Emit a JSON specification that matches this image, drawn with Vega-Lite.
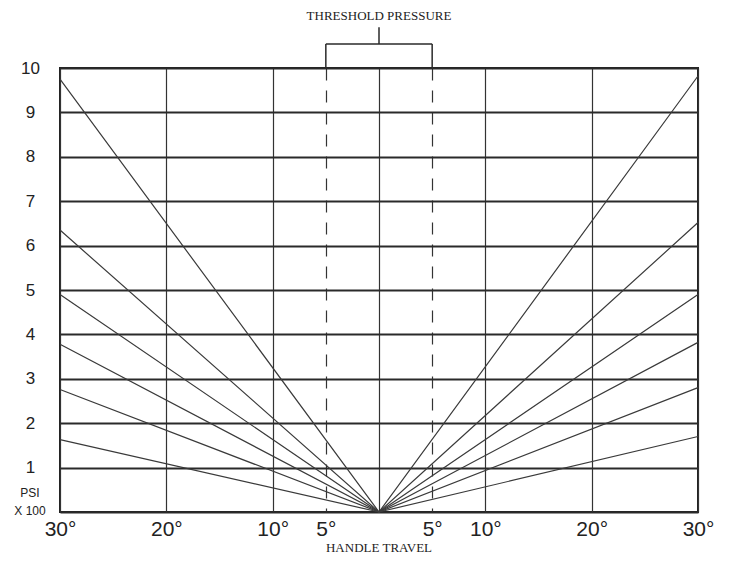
{
  "$schema": "https://vega.github.io/schema/vega-lite/v6.json",
  "width": 638,
  "height": 444,
  "autosize": {"type": "none"},
  "padding": {"left": 60, "top": 68, "right": 38, "bottom": 55},
  "background": "white",
  "config": {"view": {"stroke": "#222", "strokeWidth": 2}},
  "datasets": {
    "fan": [
      {"series": "a", "x": -30, "y": 9.75}, {"series": "a", "x": 0, "y": 0}, {"series": "a", "x": 30, "y": 9.82},
      {"series": "b", "x": -30, "y": 6.35}, {"series": "b", "x": 0, "y": 0}, {"series": "b", "x": 30, "y": 6.52},
      {"series": "c", "x": -30, "y": 4.9}, {"series": "c", "x": 0, "y": 0}, {"series": "c", "x": 30, "y": 4.9},
      {"series": "d", "x": -30, "y": 3.78}, {"series": "d", "x": 0, "y": 0}, {"series": "d", "x": 30, "y": 3.82},
      {"series": "e", "x": -30, "y": 2.76}, {"series": "e", "x": 0, "y": 0}, {"series": "e", "x": 30, "y": 2.8},
      {"series": "f", "x": -30, "y": 1.63}, {"series": "f", "x": 0, "y": 0}, {"series": "f", "x": 30, "y": 1.7}
    ],
    "bracket": [
      {"x": -5, "x2": 5, "y": 10.54, "y2": 10.54},
      {"x": -5, "x2": -5, "y": 10, "y2": 10.54},
      {"x": 5, "x2": 5, "y": 10, "y2": 10.54},
      {"x": 0, "x2": 0, "y": 10.54, "y2": 10.92}
    ],
    "titles": [
      {"label": "THRESHOLD PRESSURE", "x": 0, "y": 11.17},
      {"label": "HANDLE TRAVEL", "x": 0, "y": -0.8}
    ],
    "units": [
      {"label": "PSI", "x": -30, "y": 0.42},
      {"label": "X 100", "x": -30, "y": 0.03}
    ]
  },
  "layer": [
    {
      "data": {"name": "fan"},
      "mark": {"type": "line", "color": "#3a3a3a", "strokeWidth": 1.2},
      "encoding": {
        "x": {
          "field": "x", "type": "quantitative",
          "scale": {"domain": [-30, 30], "nice": false},
          "axis": {
            "values": [-30, -20, -10, -5, 0, 5, 10, 20, 30],
            "labelExpr": "datum.value == 0 ? '' : abs(datum.value) + '°'",
            "grid": true, "gridColor": "#333", "gridWidth": 1.2,
            "gridDash": {"condition": {"test": "abs(datum.value) == 5", "value": [12, 10]}, "value": []},
            "ticks": false, "tickSize": 0, "domain": false,
            "labelFont": "Liberation Sans", "labelFontSize": 21, "labelColor": "#222",
            "labelPadding": 6, "labelFlush": false, "labelOverlap": false,
            "title": null
          }
        },
        "y": {
          "field": "y", "type": "quantitative",
          "scale": {"domain": [0, 10], "nice": false},
          "axis": {
            "values": [0, 1, 2, 3, 4, 5, 6, 7, 8, 9, 10],
            "labelExpr": "datum.value == 0 ? '' : datum.value",
            "grid": true, "gridColor": "#2a2a2a", "gridWidth": 2.2,
            "ticks": false, "tickSize": 0, "domain": false,
            "labelFont": "Liberation Sans", "labelFontSize": 17, "labelColor": "#222",
            "labelAlign": "center", "labelPadding": 30, "labelFlush": false, "labelOverlap": false,
            "title": null
          }
        },
        "detail": {"field": "series"}
      }
    },
    {
      "data": {"name": "bracket"},
      "mark": {"type": "rule", "color": "#2a2a2a", "strokeWidth": 1.5},
      "encoding": {
        "x": {"field": "x", "type": "quantitative", "scale": {"domain": [-30, 30], "nice": false}},
        "x2": {"field": "x2"},
        "y": {"field": "y", "type": "quantitative", "scale": {"domain": [0, 10], "nice": false}},
        "y2": {"field": "y2"}
      }
    },
    {
      "data": {"name": "titles"},
      "mark": {"type": "text", "font": "Liberation Serif", "fontSize": 13, "color": "#222", "baseline": "middle", "align": "center"},
      "encoding": {
        "x": {"field": "x", "type": "quantitative", "scale": {"domain": [-30, 30], "nice": false}},
        "y": {"field": "y", "type": "quantitative", "scale": {"domain": [0, 10], "nice": false}},
        "text": {"field": "label"}
      }
    },
    {
      "data": {"name": "units"},
      "mark": {"type": "text", "font": "Liberation Sans", "fontSize": 12, "color": "#222", "baseline": "middle", "align": "center", "dx": -30},
      "encoding": {
        "x": {"field": "x", "type": "quantitative", "scale": {"domain": [-30, 30], "nice": false}},
        "y": {"field": "y", "type": "quantitative", "scale": {"domain": [0, 10], "nice": false}},
        "text": {"field": "label"}
      }
    }
  ]
}
